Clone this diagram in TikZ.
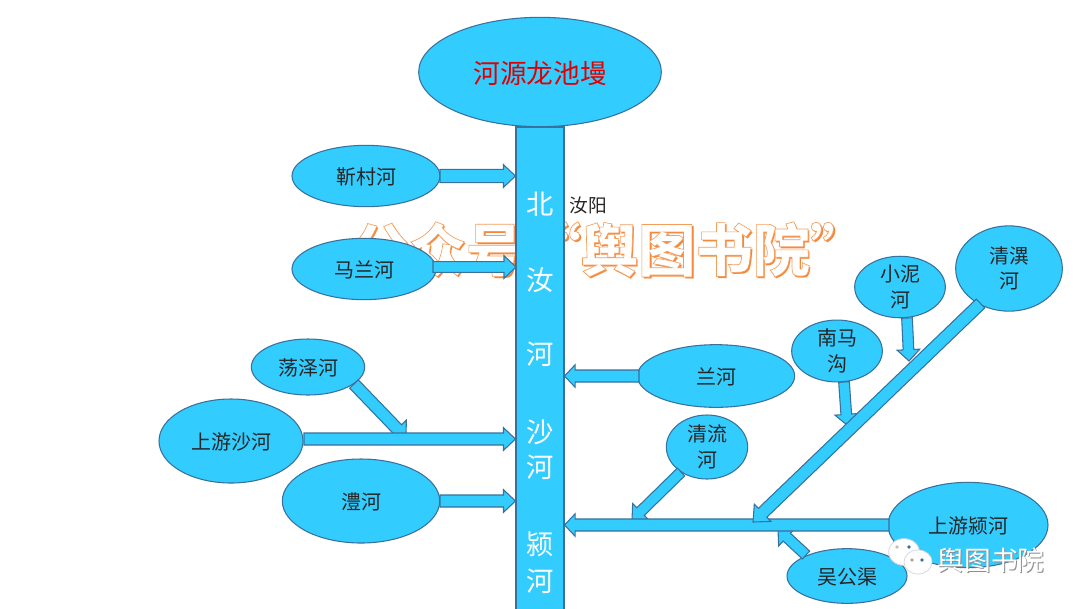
\documentclass[tikz,border=0pt]{standalone}
\usepackage{fontspec}
\setmainfont{Noto Sans CJK SC}
\usetikzlibrary{shapes.geometric,calc}
\definecolor{riverblue}{HTML}{33CCFF}
\definecolor{riveredge}{HTML}{38719C}
\definecolor{wmorange}{HTML}{F5873A}
\tikzset{
  lake/.style={ellipse,draw=riveredge,fill=riverblue,line width=0.8pt,inner sep=0pt,align=center,
    font=\fontsize{15}{19}\selectfont,text=black!85,execute at begin node={\rule{0pt}{0.94em}}},
  lake2/.style={lake,execute at begin node={\rule{0pt}{1.25em}}},
  barlabel/.style={text=white,font=\fontsize{20.5}{24}\selectfont,inner sep=0pt},
  flow/.style={draw=riveredge,fill=riverblue,line width=0.8pt,line join=miter},
  wmtext/.style={inner sep=0pt,font=\fontsize{43}{50}\bfseries\selectfont},
  cornertext/.style={inner sep=0pt,font=\fontsize{20}{24}\selectfont},
  bubble/.style={ellipse,draw=black!15,fill=white,line width=0.6pt,inner sep=0pt}
}
% #1 from, #2 to, #3 shaft half width, #4 head half width, #5 head length
\newcommand\riverflow[5]{%
  \coordinate (flowh) at ($(#2)!#5!(#1)$);
  \draw[flow] ($(#1)!#3!90:(#2)$) -- ($(flowh)!#3!90:(#2)$) -- ($(flowh)!#4!90:(#2)$) -- (#2)
    -- ($(flowh)!#4!-90:(#2)$) -- ($(flowh)!#3!-90:(#2)$) -- ($(#1)!#3!-90:(#2)$) -- cycle;
}
\newcommand\outlined[1]{\special{pdf:code q 2 Tr 0.5 w 0.96 0.62 0.36 RG}#1\special{pdf:code Q}}
\begin{document}
\begin{tikzpicture}[x=0.75pt,y=-0.75pt]
\useasboundingbox (0,0) rectangle (1080,608);
\fill[white] (0,0) rectangle (1080,608);
% large watermark
\node[wmtext,text=wmorange] (wmshadow) at (611.5,251.5) {公众号“舆图书院”};
\node[wmtext,text=white] (wm) at (609.5,249.5) {\outlined{公众号“舆图书院”}};
% main channel
\node[draw=riveredge,fill=riverblue,line width=0.8pt,minimum width=36pt,minimum height=373.5pt,inner sep=0pt] (bar) at (540,376) {};
\node[lake,minimum width=182pt,minimum height=82pt,text=red!88!black,font=\fontsize{20}{24}\selectfont,execute at begin node={}] (src) at (540,72) {河源龙池墁};
\foreach \t/\y/\n in {北/204/a,汝/280/b,河/354/c,沙/432/d,河/467/e,颍/544/f,河/581.5/g}
  \node[barlabel] (bl\n) at (540,\y) {\t};
\node[inner sep=0pt,font=\fontsize{14}{16}\selectfont,text=black!85] (ry) at (588,205) {汝阳};
% tributary lakes
\node[lake,minimum width=111pt,minimum height=46pt] (jc) at (366,176) {靳村河};
\node[lake,minimum width=108pt,minimum height=46pt] (ml) at (364,269) {马兰河};
\node[lake,minimum width=85pt,minimum height=42pt] (dz) at (308,367) {荡泽河};
\node[lake,minimum width=108pt,minimum height=63pt] (ss) at (231,441) {上游沙河};
\node[lake,minimum width=118pt,minimum height=63pt] (lh) at (361,501) {澧河};
\node[lake,minimum width=118pt,minimum height=47pt] (lan) at (716,376) {兰河};
\node[lake2,minimum width=61pt,minimum height=48pt] (ql) at (707,447) {清流\\河};
\node[lake2,minimum width=68pt,minimum height=46pt] (nm) at (837,351) {南马\\沟};
\node[lake2,minimum width=68pt,minimum height=46pt] (xn) at (900,287) {小泥\\河};
\node[lake2,minimum width=80pt,minimum height=64pt] (qy) at (1009,268.5) {清潩\\河};
\node[lake,minimum width=120pt,minimum height=64pt] (yh) at (968,525) {上游颍河};
\node[lake,minimum width=90pt,minimum height=41pt] (wg) at (847,576) {吴公渠};
% arrow ends
\coordinate (t1) at (bar.west |- jc);
\coordinate (t2) at (516,267);
\coordinate (t3) at (bar.west |- 0,439);
\coordinate (t4) at (bar.west |- lh);
\coordinate (t5) at (bar.east |- lan);
\coordinate (t6) at (bar.east |- 0,525);
\coordinate (s1) at (440,176);
\coordinate (s2) at (433,267);
\coordinate (s3) at (304,439);
\coordinate (s4) at (440,501);
\coordinate (s5) at (639,376);
\coordinate (s6) at (889,525);
\coordinate (dzs) at (354,384);
\coordinate (dzt) at (406,438);
\coordinate (qls) at (681,472);
\coordinate (qlt) at (632,520);
\coordinate (qys) at (980.5,303.5);
\coordinate (qyt) at (753,522);
\coordinate (xns) at (907,318);
\coordinate (xnt) at (909,361);
\coordinate (nms) at (844,382);
\coordinate (nmt) at (847,425);
\coordinate (wgs) at (806,555);
\coordinate (wgt) at (778,529);
% flows, lower ones first
\riverflow{dzs}{dzt}{4.5pt}{9.5pt}{9.5pt}
\riverflow{xns}{xnt}{4pt}{8.5pt}{8.5pt}
\riverflow{nms}{nmt}{4pt}{8.5pt}{8pt}
\riverflow{qls}{qlt}{4pt}{8.5pt}{9pt}
\riverflow{wgs}{wgt}{4pt}{9pt}{9pt}
\riverflow{s1}{t1}{5pt}{8.5pt}{9pt}
\riverflow{s2}{t2}{4pt}{8.5pt}{9pt}
\riverflow{s3}{t3}{4.5pt}{8.5pt}{9pt}
\riverflow{s4}{t4}{4.5pt}{8.5pt}{9pt}
\riverflow{s5}{t5}{4.5pt}{8.5pt}{8pt}
\riverflow{s6}{t6}{4.5pt}{8.5pt}{8pt}
\riverflow{qys}{qyt}{4.6pt}{9pt}{10pt}
% corner watermark
\node[bubble,minimum width=23pt,minimum height=20pt] (b1) at (904,552) {};
\node[bubble,minimum width=21pt,minimum height=18pt] (b2) at (918,562) {};
\foreach \x/\y/\c in {897/547/black!25,909/547/riveredge,912/560/black!35,922/560/riveredge}
  \fill[\c] (\x,\y) circle (1.4pt);
\node[cornertext,text=black!45] (cwshadow) at (992,561) {舆图书院};
\node[cornertext,text=white] (cw) at (991,560) {舆图书院};
\end{tikzpicture}
\end{document}
